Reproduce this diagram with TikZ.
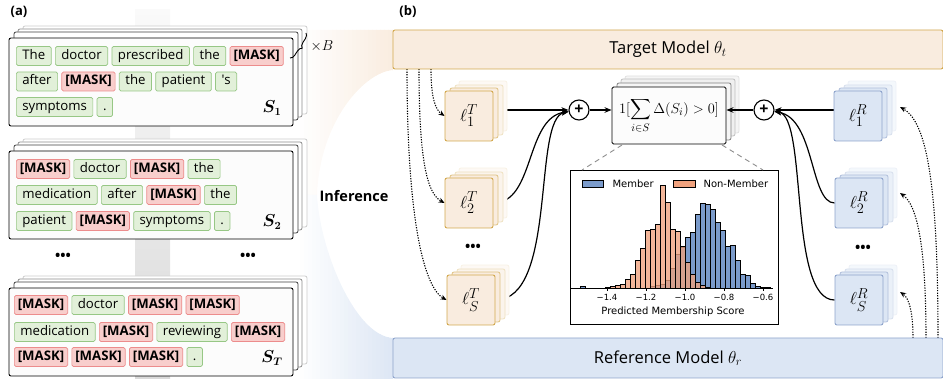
\documentclass[tikz,border=0pt]{standalone}
\usepackage{fontspec}
\setmainfont{Open Sans}
\newfontfamily\plotfont{DejaVu Sans}
\usepackage{amsmath,bm}
\usetikzlibrary{arrows.meta,positioning,calc,decorations.pathreplacing}

\definecolor{tokG}{HTML}{E2F0D9}
\definecolor{tokGline}{HTML}{97C785}
\definecolor{tokR}{HTML}{F8CECC}
\definecolor{tokRline}{HTML}{EC8C8C}
\definecolor{tgtfill}{HTML}{F9ECDF}
\definecolor{tgtline}{HTML}{D2A84E}
\definecolor{reffill}{HTML}{DCE6F4}
\definecolor{refline}{HTML}{8EA4CC}
\definecolor{histB}{HTML}{7B9BCB}
\definecolor{histO}{HTML}{F0A27E}

\pgfdeclarelayer{bg}
\pgfdeclarelayer{links}
\pgfsetlayers{bg,links,main}

% stacked copies behind a front box: top-left, bottom-right, list dx/dy/border/fill
\newcommand{\layerstack}[5]{%
  \foreach \dx/\dy/\bc/\fc in {#5}{%
    \draw[draw=\bc, fill=\fc, rounded corners=2pt, line width=0.8pt]
      ($(#1,#2)+(\dx,\dy)$) rectangle ($(#3,#4)+(\dx,\dy)$);}}

\begin{document}
\begin{tikzpicture}[x=1pt,y=-1pt,
  tok/.style={draw=tokGline, fill=tokG, rounded corners=1.5pt, line width=0.7pt,
    minimum height=19pt, inner xsep=6pt, inner ysep=0pt, text height=10pt,
    text depth=3pt, font=\fontsize{13.2}{15}\selectfont, anchor=west},
  mask/.style={tok, draw=tokRline, fill=tokR, inner xsep=3.5pt,
    font=\fontsize{13.2}{15}\selectfont\bfseries},
  card/.style={draw=black, fill=black!1, rounded corners=2pt, line width=0.9pt,
    minimum width=284pt, minimum height=88pt, inner sep=0pt},
  slab/.style={font=\fontsize{16}{18}\selectfont},
  lT/.style={draw=tgtline, fill=tgtfill, rounded corners=2pt, line width=0.9pt,
    minimum width=48pt, minimum height=50pt, inner sep=0pt,
    font=\fontsize{19}{21}\selectfont},
  lR/.style={lT, draw=refline, fill=reffill},
  plus/.style={circle, draw, fill=white, line width=1.1pt, minimum size=20pt,
    inner sep=0pt, font=\fontsize{16}{16}\selectfont\bfseries},
  flow/.style={line width=1.2pt, -{Stealth[length=7pt,width=5.5pt]}},
  feed/.style={line width=1.1pt, dash pattern=on 1.2pt off 1.4pt,
    -{Stealth[length=6pt,width=5pt]}},
  dots/.style={font=\fontsize{14}{14}\selectfont\bfseries},
  model/.style={rounded corners=2pt, line width=0.9pt, minimum width=550pt,
    inner sep=0pt, font=\fontsize{16.5}{18}\selectfont},
  panel/.style={font=\fontsize{13}{15}\selectfont\bfseries},
  bar/.style={line width=0.4pt, draw=black},
  ticklab/.style={font=\plotfont\fontsize{8.5}{10}\selectfont},
  plotlab/.style={font=\plotfont\fontsize{10}{12}\selectfont},
]
\useasboundingbox (0,0) rectangle (943,379);

% ---------- background bands ----------
\begin{pgfonlayer}{bg}
  \fill[top color=black!2, bottom color=black!15] (135,10) rectangle (170,379);
  \begin{scope}
    \clip (296,30) -- (393,30) -- (393,70) .. controls (365,72) and (320,120) .. (317,195)
      -- (296,195) -- cycle;
    \foreach \i in {0,...,24}{%
      \pgfmathtruncatemacro\p{\i*100/24}%
      \fill[tgtfill!\p!white] (296+4*\i,29) rectangle (300.6+4*\i,196);}
  \end{scope}
  \begin{scope}
    \clip (296,195) -- (317,195) .. controls (320,250) and (355,336) .. (393,338)
      -- (393,379) -- (296,379) -- cycle;
    \foreach \i in {0,...,24}{%
      \pgfmathtruncatemacro\p{\i*100/24}%
      \fill[reffill!\p!white] (296+4*\i,194) rectangle (300.6+4*\i,380);}
  \end{scope}
\end{pgfonlayer}

% ---------- panel (a) ----------
\node[panel] (pa) at (19,12) {(a)};

% sample S_1
\layerstack{9}{38}{293}{126}{14/-12/black!20/white, 9/-9/black!45/white, 5/-6/black!75/white}
\node[card] (card1) at (151,82) {};
\node[tok] (a11) at (16,56) {The};
\node[tok, right=3.5pt of a11] (a12) {doctor};
\node[tok, right=3.5pt of a12] (a13) {prescribed};
\node[tok, right=3.5pt of a13] (a14) {the};
\node[mask, right=3.5pt of a14] (a15) {[MASK]};
\node[tok] (a21) at (16,81.5) {after};
\node[mask, right=3.5pt of a21] (a22) {[MASK]};
\node[tok, right=3.5pt of a22] (a23) {the};
\node[tok, right=3.5pt of a23] (a24) {patient};
\node[tok, right=3.5pt of a24] (a25) {\textquotesingle s};
\node[tok] (a31) at (16,107) {symptoms};
\node[tok, right=3.5pt of a31] (a32) {.};
\node[slab] (lab1) at (272,108) {$\bm{S_1}$};

% batch brace
\draw[decorate, decoration={brace, amplitude=5pt}, line width=0.9pt]
  (306,33) -- (290,58);
\node[font=\fontsize{14}{16}\selectfont] (timesB) at (322,46) {$\times B$};

% sample S_2
\layerstack{9}{151}{293}{239}{14/-12/black!20/white, 9/-9/black!45/white, 5/-6/black!75/white}
\node[card] (card2) at (151,195) {};
\node[mask] (b11) at (16,169) {[MASK]};
\node[tok, right=3.5pt of b11] (b12) {doctor};
\node[mask, right=3.5pt of b12] (b13) {[MASK]};
\node[tok, right=3.5pt of b13] (b14) {the};
\node[tok] (b21) at (16,195) {medication};
\node[tok, right=3.5pt of b21] (b22) {after};
\node[mask, right=3.5pt of b22] (b23) {[MASK]};
\node[tok, right=3.5pt of b23] (b24) {the};
\node[tok] (b31) at (16,221) {patient};
\node[mask, right=3.5pt of b31] (b32) {[MASK]};
\node[tok, right=3.5pt of b32] (b33) {symptoms};
\node[tok, right=3.5pt of b33] (b34) {.};
\node[slab] (lab2) at (272,222) {$\bm{S_2}$};

\node[dots] (dl) at (63,257) {•••};
\node[dots] (dr) at (248,257) {•••};

% sample S_T
\layerstack{9}{288}{293}{376}{14/-12/black!20/white, 9/-9/black!45/white, 5/-6/black!75/white}
\node[card] (card3) at (151,332) {};
\node[mask] (c11) at (14,305) {[MASK]};
\node[tok, right=3.5pt of c11] (c12) {doctor};
\node[mask, right=3.5pt of c12] (c13) {[MASK]};
\node[mask, right=3.5pt of c13] (c14) {[MASK]};
\node[tok] (c21) at (14,332) {medication};
\node[mask, right=3.5pt of c21] (c22) {[MASK]};
\node[tok, right=3.5pt of c22] (c23) {reviewing};
\node[mask, right=3.5pt of c23] (c24) {[MASK]};
\node[mask] (c31) at (14,357) {[MASK]};
\node[mask, right=3.5pt of c31] (c32) {[MASK]};
\node[mask, right=3.5pt of c32] (c33) {[MASK]};
\node[tok, right=3.5pt of c33] (c34) {.};
\node[slab] (lab3) at (272,358) {$\bm{S_T}$};

\node[font=\fontsize{14.5}{16}\selectfont\bfseries] (inf) at (354,196) {Inference};

% ---------- panel (b) ----------
\node[panel] (pb) at (408,12) {(b)};

\node[model, draw=tgtline, fill=tgtfill, minimum height=39pt] (target) at (668,49.5)
  {Target Model $\theta_t$};
\node[model, draw=refline, fill=reffill, minimum height=40pt] (ref) at (668,358)
  {Reference Model $\theta_r$};

% target-side score stacks
\layerstack{445}{91}{493}{141}{14/-10/tgtline!15/tgtfill!30, 10/-6/tgtline!35/tgtfill!60, 5/-3/tgtline!70/tgtfill}
\node[lT] (l1T) at (469,116) {$\ell^{T}_{1}$};
\layerstack{445}{178}{493}{228}{14/-10/tgtline!15/tgtfill!30, 10/-6/tgtline!35/tgtfill!60, 5/-3/tgtline!70/tgtfill}
\node[lT] (l2T) at (469,203) {$\ell^{T}_{2}$};
\layerstack{447}{275}{495}{325}{14/-10/tgtline!15/tgtfill!30, 10/-6/tgtline!35/tgtfill!60, 5/-3/tgtline!70/tgtfill}
\node[lT] (lST) at (471,300) {$\ell^{T}_{S}$};
\node[dots] (dT) at (473,248) {•••};

% reference-side score stacks
\layerstack{834}{91}{882}{141}{14/-10/refline!15/reffill!30, 10/-6/refline!35/reffill!60, 5/-3/refline!70/reffill}
\node[lR] (l1R) at (858,116) {$\ell^{R}_{1}$};
\layerstack{835}{178}{883}{228}{14/-10/refline!15/reffill!30, 10/-6/refline!35/reffill!60, 5/-3/refline!70/reffill}
\node[lR] (l2R) at (859,203) {$\ell^{R}_{2}$};
\layerstack{835}{275}{883}{325}{14/-10/refline!15/reffill!30, 10/-6/refline!35/reffill!60, 5/-3/refline!70/reffill}
\node[lR] (lSR) at (859,300) {$\ell^{R}_{S}$};
\node[dots] (dR) at (863,249) {•••};

% aggregation
\node[plus] (pL) at (579,110) {+};
\node[plus] (pR) at (764,110) {+};
\layerstack{612}{87}{726}{144}{13/-11/black!12/black!4, 9/-8/black!25/black!6, 5/-4/black!50/black!4}
\node[draw=black, fill=black!1, rounded corners=1.5pt, line width=0.9pt,
  minimum width=114pt, minimum height=57pt, inner sep=0pt,
  font=\fontsize{15.3}{17}\selectfont] (form) at (669,115.5)
  {$\displaystyle 1[\sum_{i\in S}\Delta(S_i) > 0]$};

% histogram panel
\node[draw=black, line width=0.8pt, minimum width=208pt, minimum height=154pt,
  inner sep=0pt] (hist) at (674,247) {};
\coordinate (zl) at (622,145);
\coordinate (zr) at (722,145);
\coordinate (hl) at (582,170);
\coordinate (hr) at (763,170);
\draw[black!45, line width=0.9pt, dash pattern=on 5pt off 4pt] (zl) -- (hl);
\draw[black!45, line width=0.9pt, dash pattern=on 5pt off 4pt] (zr) -- (hr);

\foreach \x/\h in {580/1.5, 650/2, 655/3, 660/4, 665/8, 670/20, 675/34, 680/41,
  685/51, 690/56, 695/74, 700/85, 705/84, 710/79, 715/66, 720/58, 725/42,
  730/43, 735/28, 740/14, 745/13, 750/5, 755/2, 760/1, 765/1}
  {\draw[bar, fill=histB] (\x,288) rectangle ++(5,-\h);}
\foreach \x/\h in {605/1, 610/2, 615/3, 620/4, 625/9, 630/14, 635/28, 640/40,
  645/58, 650/59, 655/64, 660/103, 665/86, 670/59, 675/57, 680/42, 685/26,
  690/14, 695/6, 700/3, 705/1}
  {\draw[bar, fill=histO, fill opacity=0.78] (\x,288) rectangle ++(5,-\h);}
\draw[line width=0.6pt] (571,288) -- (773,288);
\foreach \v/\x in {−1.4/607, −1.2/646, −1.0/685, −0.8/724, −0.6/763}{
  \draw[line width=0.6pt] (\x,288) -- (\x,291);
  \node[ticklab] at (\x,297.5) {\v};}
\node[plotlab] (xlab) at (673,312) {Predicted Membership Score};
\draw[bar, fill=histB] (582,180) rectangle (603,187);
\node[plotlab, anchor=west] (legB) at (609,183.5) {Member};
\draw[bar, fill=histO] (673,180) rectangle (695,187);
\node[plotlab, anchor=west] (legO) at (700,183.5) {Non-Member};

% ---------- connectors ----------
\coordinate (t1) at (431,69);
\coordinate (t2) at (419,69);
\coordinate (t3) at (407,69);
\coordinate (r1) at (938,338);
\coordinate (r2) at (926,338);
\coordinate (r3) at (913,338);
\coordinate (e1) at (900,107);
\coordinate (e2) at (900,193);
\coordinate (e3) at (900,292);

\begin{pgfonlayer}{links}
  \draw[feed] (t1) .. controls (431,100) and (436,110) .. (l1T.west);
  \draw[feed] (t2) .. controls (419,165) and (428,194) .. (l2T.west);
  \draw[feed] (t3) .. controls (407,225) and (425,288) .. (lST.west);
  \draw[feed] (r3) .. controls (913,312) and (909,298) .. (e3);
  \draw[feed] (r2) .. controls (926,245) and (917,205) .. (e2);
  \draw[feed] (r1) .. controls (938,185) and (927,122) .. (e1);

  \draw[flow] (l1T.east |- pL) -- (pL);
  \draw[flow] (l2T.east) .. controls (535,203) and (525,118) .. (pL);
  \draw[flow] (lST.east) .. controls (558,300) and (532,118) .. (pL);
  \draw[flow] (pL) -- (pL -| form.west);
  \draw[flow] (l1R.west |- pR) -- (pR);
  \draw[flow] (l2R.west) .. controls (810,203) and (815,118) .. (pR);
  \draw[flow] (lSR.west) .. controls (788,300) and (808,116) .. (pR);
\end{pgfonlayer}
\draw[flow] (pR) -- (pR -| form.east);
\end{tikzpicture}
\end{document}
